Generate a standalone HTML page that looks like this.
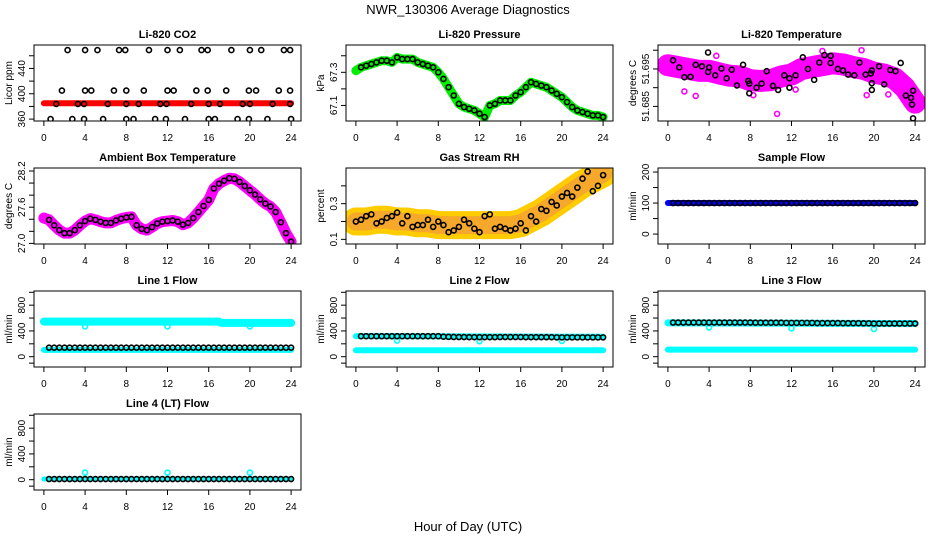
<!DOCTYPE html>
<html><head><meta charset="utf-8"><style>
body{margin:0;background:#fff;}
svg{display:block;font-family:"Liberation Sans",Arial,sans-serif;}
</style></head><body>
<svg id="chart" width="936" height="540" viewBox="0 0 936 540">
<text x="468" y="14" text-anchor="middle" font-size="13">NWR_130306  Average Diagnostics</text>
<text x="468" y="531" text-anchor="middle" font-size="13">Hour of Day (UTC)</text>
</svg>
<script>
const H49=[0,0.5,1,1.5,2,2.5,3,3.5,4,4.5,5,5.5,6,6.5,7,7.5,8,8.5,9,9.5,10,10.5,11,11.5,12,12.5,13,13.5,14,14.5,15,15.5,16,16.5,17,17.5,18,18.5,19,19.5,20,20.5,21,21.5,22,22.5,23,23.5,24];
const H25=[0,1,2,3,4,5,6,7,8,9,10,11,12,13,14,15,16,17,18,19,20,21,22,23,24];
const xTicks=[0,4,8,12,16,20,24];
// CO2
const co2BandH=[0,24];
const co2BandV=[385,385];
const co2PtsH=[2.3,4.0,5.2,7.3,7.9,10.2,12.0,13.2,15.3,15.9,18.2,20.0,21.1,23.3,23.9,1.75,4.0,4.6,6.8,8.0,9.7,12,12.6,14.8,15.9,17.7,19.9,20.6,22.8,23.9,1.2,3.3,3.9,6.2,8,9.2,11.3,11.9,14.3,16,17.1,19.3,20,22.2,23.9,0.65,2.76,3.9,5.75,8,8.7,10.8,11.85,13.7,16,16.6,18.8,19.9,21.7,24];
const co2PtsV=[469,469,469,469,469,469,469,469,469,469,469,469,469,469,469,405,405,405,405,405,405,405,405,405,405,405,405,405,405,405,384,384,384,384,384,384,384,384,384,384,384,384,384,384,384,360,360,360,360,360,360,360,360,360,360,360,360,360,360,360];
// Pressure
const presV=[67.31,67.33,67.34,67.35,67.36,67.37,67.37,67.36,67.39,67.38,67.38,67.38,67.36,67.35,67.34,67.33,67.30,67.26,67.21,67.16,67.11,67.09,67.08,67.07,67.05,67.03,67.10,67.11,67.13,67.13,67.13,67.16,67.18,67.21,67.24,67.23,67.22,67.21,67.19,67.17,67.15,67.12,67.09,67.07,67.06,67.05,67.04,67.04,67.03];
// Li-820 temperature
const ltBandV=[51.6960,51.6955,51.6950,51.6945,51.6945,51.6938,51.6932,51.6930,51.6920,51.6918,51.6920,51.6930,51.6935,51.6950,51.6955,51.6960,51.6965,51.6962,51.6955,51.6950,51.6940,51.6935,51.6925,51.6900,51.6860];
const ltPtsH=[0.5,1.1,1.6,2.2,2.7,3.3,3.9,3.9,4,4.6,5.2,5.7,6.2,6.7,7.3,7.8,7.9,7.9,8.6,9.1,9.6,10.2,10.7,11.3,11.8,11.8,12.4,13.1,13.6,14.2,14.7,15.2,15.8,15.8,16.5,17,17.5,18.1,18.6,19.2,19.7,19.8,19.8,19.8,20.5,21,21.6,22.1,22.6,23.1,23.6,23.7,23.8,23.8];
const ltPtsV=[51.6973,51.6954,51.6928,51.6929,51.6961,51.6957,51.6994,51.6942,51.6954,51.6933,51.6951,51.6925,51.6948,51.6906,51.6961,51.6918,51.6911,51.6885,51.6900,51.6911,51.6944,51.6905,51.6894,51.6933,51.6925,51.6900,51.6933,51.6981,51.6950,51.6921,51.6967,51.6987,51.6966,51.6985,51.6950,51.6946,51.6935,51.6933,51.6967,51.6935,51.6938,51.6946,51.6912,51.6894,51.6957,51.6909,51.6947,51.6944,51.6966,51.6879,51.6873,51.6855,51.6892,51.6818];
const ltOutH=[1.6,2.7,10.6,18.8,4.7,12.4,19.3,8.3,15.0,21.4];
const ltOutV=[51.6890,51.6878,51.6830,51.7000,51.6985,51.6895,51.6880,51.6880,51.6998,51.6882];
// Ambient
const ambV=[27.42,27.39,27.30,27.22,27.17,27.17,27.22,27.30,27.37,27.41,27.39,27.36,27.34,27.34,27.38,27.41,27.43,27.44,27.30,27.24,27.22,27.27,27.33,27.36,27.37,27.38,27.36,27.31,27.34,27.42,27.52,27.62,27.72,27.91,27.99,28.04,28.08,28.07,28.02,27.95,27.88,27.81,27.73,27.66,27.61,27.52,27.35,27.17,27.03];
// RH
const rhBandV=[0.20,0.20,0.21,0.21,0.20,0.20,0.19,0.19,0.18,0.18,0.18,0.18,0.18,0.18,0.18,0.18,0.19,0.22,0.25,0.29,0.33,0.37,0.41,0.44,0.47];
const rhPtsV=[0.20,0.21,0.23,0.24,0.19,0.20,0.22,0.23,0.25,0.19,0.23,0.17,0.18,0.18,0.21,0.17,0.20,0.18,0.14,0.15,0.17,0.21,0.19,0.16,0.14,0.23,0.24,0.16,0.17,0.16,0.15,0.16,0.19,0.15,0.23,0.20,0.27,0.26,0.31,0.29,0.34,0.36,0.34,0.39,0.44,0.48,0.37,0.40,0.46];
// Flows
const bandH=[0,24];
const sampleBandV=[100,100];
const l1HiH=[0,17,17.2,24];
const l1HiV=[545,545,525,525];
const l1LoV=[105,105];
const l2HiV=[320,310];
const l2LoV=[100,100];
const l3HiV=[525,515];
const l3LoV=[110,110];
const l4V=[10,10];
const outH=[4,12,20];
const l1OutV=[470,470,470];
const l2OutV=[250,240,245];
const l3OutV=[455,440,430];
const l4OutV=[110,110,110];
const sampleV=[100,100,100,100,100,100,100,100,100,100,100,100,100,100,100,100,100,100,100,100,100,100,100,100,100,100,100,100,100,100,100,100,100,100,100,100,100,100,100,100,100,100,100,100,100,100,100,100,100];
const l1V=[140,140,140,140,140,140,140,140,140,140,140,140,140,140,140,140,140,140,140,140,140,140,140,140,140,140,140,140,140,140,140,140,140,140,140,140,140,140,140,140,140,140,140,140,140,140,140,140,140];
const l2V=[320,318,318,318,318,318,318,318,318,318,318,318,318,318,318,318,318,310,308,306,305,305,303,303,303,303,303,303,305,305,305,305,305,303,303,303,303,303,303,300,300,300,300,300,300,300,300,300,300];
const l3V=[530,530,530,530,530,530,530,530,530,530,530,530,530,530,530,530,530,528,528,528,528,528,528,525,525,525,525,525,525,522,522,522,522,522,520,520,520,520,518,518,515,515,515,515,515,515,515,515,515];
const l4V2=[10,10,10,10,10,10,10,10,10,10,10,10,10,10,10,10,10,10,10,10,10,10,10,10,10,10,10,10,10,10,10,10,10,10,10,10,10,10,10,10,10,10,10,10,10,10,10,10,10];

const NS='http://www.w3.org/2000/svg';
const svg=document.getElementById('chart');
function mk(tag,attrs,parent){const e=document.createElementNS(NS,tag);for(const k in attrs)e.setAttribute(k,attrs[k]);(parent||svg).appendChild(e);return e;}

function panel(o){
  const g=mk('g',{});
  
  
  const W=267,Hh=76,L=o.left,T=o.top;
  const sx=W/25.92, x0=L+0.96*sx;
  const X=h=>x0+h*sx;
  const Y=v=>T+Hh-(v-o.ymin)/(o.ymax-o.ymin)*Hh;
  const t=mk('text',{x:L+W/2,y:T-7,'text-anchor':'middle','font-size':11,'font-weight':'bold'},g);
  t.textContent=o.title;
  
  
  const clip='c'+o.name;
  const cp=mk('clipPath',{id:clip},g);mk('rect',{x:L,y:T,width:W,height:Hh},cp);
  const plot=mk('g',{'clip-path':'url(#'+clip+')'},g);
  o.draw({X,Y,plot});
  const box=mk('rect',{x:L,y:T,width:W,height:Hh,fill:'none',stroke:'#000','stroke-width':1},g);
  
  
  const b=T+Hh;
  mk('line',{x1:X(0),x2:X(24),y1:b,y2:b,stroke:'#000'},g);
  xTicks.forEach(h=>{
    mk('line',{x1:X(h),x2:X(h),y1:b,y2:b+5,stroke:'#000'},g);
    const tl=mk('text',{x:X(h),y:b+20,'text-anchor':'middle','font-size':10},g);
    tl.textContent=h;
    
    
  });
  mk('line',{x1:L,x2:L,y1:Y(o.yticks[0]),y2:Y(o.yticks[o.yticks.length-1]),stroke:'#000'},g);
  o.yticks.forEach(v=>{mk('line',{x1:L-5,x2:L,y1:Y(v),y2:Y(v),stroke:'#000'},g);});
  o.ylabels.forEach((v,i)=>{
    const yl=mk('text',{x:0,y:0,'text-anchor':'middle','font-size':10,transform:`translate(${L-9},${Y(v)}) rotate(-90)`},g);
    yl.textContent=o.ytext[i];
    
    
  });
  const at=mk('text',{x:0,y:0,'text-anchor':'middle','font-size':10,transform:`translate(${L-22},${T+Hh/2}) rotate(-90)`},g);
  at.textContent=o.ylab;
  
  
}
function band(c,hs,vs,color,w,name){
  const p=mk('polyline',{points:hs.map((h,i)=>c.X(h)+','+c.Y(vs[i])).join(' '),fill:'none',stroke:color,'stroke-width':w,'stroke-linecap':'round','stroke-linejoin':'round'},c.plot);
  
  
}
function pts(c,hs,vs,color,name,r){
  hs.forEach((h,i)=>{
    const e=mk('circle',{cx:c.X(h),cy:c.Y(vs[i]),r:r||2.5,fill:'none',stroke:color,'stroke-width':1.6},c.plot);
    
    
  });
}
const cols=[34,346,658], rows=[45,168,291,414];
const flowTicks=[-100,0,200,400,600,800,1000];
panel({name:'panel-co2',left:cols[0],top:rows[0],ymin:357,ymax:477,title:'Li-820 CO2',ylab:'Licor ppm',
  yticks:[360,380,400,420,440,460],ylabels:[360,400,440],ytext:['360','400','440'],
  draw:c=>{band(c,co2BandH,co2BandV,'#ff0000',6,'co2-raw-band');pts(c,co2PtsH,co2PtsV,'#000','co2-point');}});
panel({name:'panel-pressure',left:cols[1],top:rows[0],ymin:67.006,ymax:67.465,title:'Li-820 Pressure',ylab:'kPa',
  yticks:[67.1,67.2,67.3,67.4],ylabels:[67.1,67.3],ytext:['67.1','67.3'],
  draw:c=>{band(c,H49,presV,'#00ee00',9,'pressure-raw-band');pts(c,H49.slice(1),presV.slice(1),'#000','pressure-point');}});
panel({name:'panel-li820-temp',left:cols[2],top:rows[0],ymin:51.6811,ymax:51.7014,title:'Li-820 Temperature',ylab:'degrees C',
  yticks:[51.685,51.69,51.695,51.70],ylabels:[51.685,51.695],ytext:['51.685','51.695'],
  draw:c=>{band(c,H25,ltBandV,'#ff00ff',22,'temp-raw-band');pts(c,ltOutH,ltOutV,'#ff00ff','temp-raw-point');pts(c,ltPtsH,ltPtsV,'#000','temp-point');}});
panel({name:'panel-ambient',left:cols[0],top:rows[1],ymin:26.99,ymax:28.25,title:'Ambient Box Temperature',ylab:'degrees C',
  yticks:[27.0,27.2,27.4,27.6,27.8,28.0,28.2],ylabels:[27.0,27.6,28.2],ytext:['27.0','27.6','28.2'],
  draw:c=>{band(c,H49,ambV,'#ff00ff',11,'ambient-raw-band');pts(c,H49.slice(1),ambV.slice(1),'#000','ambient-point');}});
panel({name:'panel-rh',left:cols[1],top:rows[1],ymin:0.074,ymax:0.50,title:'Gas Stream RH',ylab:'percent',
  yticks:[0.1,0.2,0.3,0.4],ylabels:[0.1,0.3],ytext:['0.1','0.3'],
  draw:c=>{band(c,H25,rhBandV,'#ffcc00',28,'rh-raw-band-outer');band(c,H25,rhBandV,'#f5a82a',18,'rh-raw-band');pts(c,H49,rhPtsV,'#000','rh-point');}});
panel({name:'panel-sample-flow',left:cols[2],top:rows[1],ymin:-32,ymax:213,title:'Sample Flow',ylab:'ml/min',
  yticks:[0,50,100,150,200],ylabels:[0,100,200],ytext:['0','100','200'],
  draw:c=>{band(c,bandH,sampleBandV,'#0000ff',6,'sample-raw-band');pts(c,H49.slice(1),sampleV.slice(1),'#000','sample-point');}});
panel({name:'panel-line1',left:cols[0],top:rows[2],ymin:-160,ymax:1020,title:'Line 1 Flow',ylab:'ml/min',
  yticks:flowTicks,ylabels:[0,400,800],ytext:['0','400','800'],
  draw:c=>{band(c,l1HiH,l1HiV,'#00ffff',8,'line1-high-band');band(c,bandH,l1LoV,'#00ffff',6,'line1-low-band');pts(c,outH,l1OutV,'#00ffff','line1-outlier');pts(c,H49.slice(1),l1V.slice(1),'#000','line1-point');}});
panel({name:'panel-line2',left:cols[1],top:rows[2],ymin:-160,ymax:1020,title:'Line 2 Flow',ylab:'ml/min',
  yticks:flowTicks,ylabels:[0,400,800],ytext:['0','400','800'],
  draw:c=>{band(c,bandH,l2HiV,'#00ffff',6,'line2-high-band');band(c,bandH,l2LoV,'#00ffff',6,'line2-low-band');pts(c,outH,l2OutV,'#00ffff','line2-outlier');pts(c,H49.slice(1),l2V.slice(1),'#000','line2-point');}});
panel({name:'panel-line3',left:cols[2],top:rows[2],ymin:-160,ymax:1020,title:'Line 3 Flow',ylab:'ml/min',
  yticks:flowTicks,ylabels:[0,400,800],ytext:['0','400','800'],
  draw:c=>{band(c,bandH,l3HiV,'#00ffff',7,'line3-high-band');band(c,bandH,l3LoV,'#00ffff',6,'line3-low-band');pts(c,outH,l3OutV,'#00ffff','line3-outlier');pts(c,H49.slice(1),l3V.slice(1),'#000','line3-point');}});
panel({name:'panel-line4',left:cols[0],top:rows[3],ymin:-160,ymax:1020,title:'Line 4 (LT) Flow',ylab:'ml/min',
  yticks:flowTicks,ylabels:[0,400,800],ytext:['0','400','800'],
  draw:c=>{band(c,bandH,l4V,'#00ffff',5,'line4-band');pts(c,outH,l4OutV,'#00ffff','line4-outlier');pts(c,H49.slice(1),l4V2.slice(1),'#000','line4-point');}});
</script>
</body></html>
